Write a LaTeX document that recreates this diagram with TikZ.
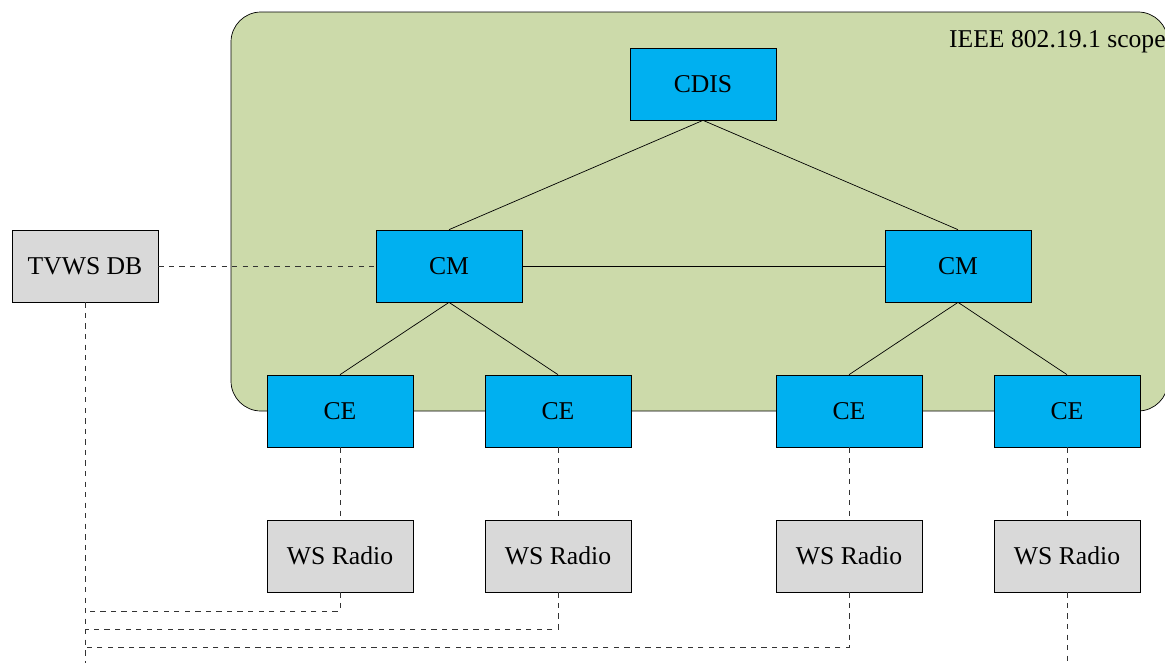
\documentclass[tikz,border=0pt]{standalone}
\usepackage{fontspec}
\setmainfont{Liberation Serif}
\definecolor{scopegreen}{HTML}{CCDAAA}
\definecolor{entblue}{HTML}{00B0F0}
\definecolor{extgray}{HTML}{D9D9D9}
\tikzset{
	entity/.style={draw, fill=entblue, minimum width=2.92cm, minimum height=1.44cm, inner sep=0pt, font=\fontsize{14.6}{17}\selectfont},
	extbox/.style={entity, fill=extgray},
	link/.style={draw=black!80, dashed}
}
\begin{document}
\begin{tikzpicture}[x=0.02cm, y=-0.02cm]
	\useasboundingbox (0,0) rectangle (1165,663);
	\clip (0,0) rectangle (1165,663);
	% scope area
	\draw[fill=scopegreen, rounded corners=0.6cm] (231,12) rectangle (1168,411);
	\node[anchor=base east, inner sep=0pt, font=\fontsize{14.6}{17}\selectfont] (scope) at (1166,47) {IEEE 802.19.1 scope};
	% entities
	\node[entity] (cdis) at (703,84) {CDIS};
	\node[entity] (cml) at (449,266) {CM};
	\node[entity] (cmr) at (958,266) {CM};
	\node[extbox] (tvws) at (85,266) {TVWS DB};
	\foreach \x/\n in {340/1, 558/2, 849/3, 1067/4}{
		\node[entity] (ce\n) at (\x,411) {CE};
		\node[extbox] (ws\n) at (\x,556) {WS Radio};
		\draw[link] (ce\n) -- (ws\n);
	}
	\draw (cdis.south) -- (cml.north) (cdis.south) -- (cmr.north);
	\draw (cml) -- (cmr);
	\draw (cml.south) -- (ce1.north) (cml.south) -- (ce2.north);
	\draw (cmr.south) -- (ce3.north) (cmr.south) -- (ce4.north);
	% database links
	\coordinate (b1) at (85,611);
	\coordinate (b2) at (85,629);
	\coordinate (b3) at (85,647);
	\coordinate (bend) at (85,663);
	\coordinate (rend) at (1067,663);
	\draw[link] (tvws) -- (cml);
	\draw[link] (tvws.south) -- (bend);
	\draw[link] (ws1.south) |- (b1);
	\draw[link] (ws2.south) |- (b2);
	\draw[link] (ws3.south) |- (b3);
	\draw[link] (ws4.south) -- (rend);
\end{tikzpicture}
\end{document}
